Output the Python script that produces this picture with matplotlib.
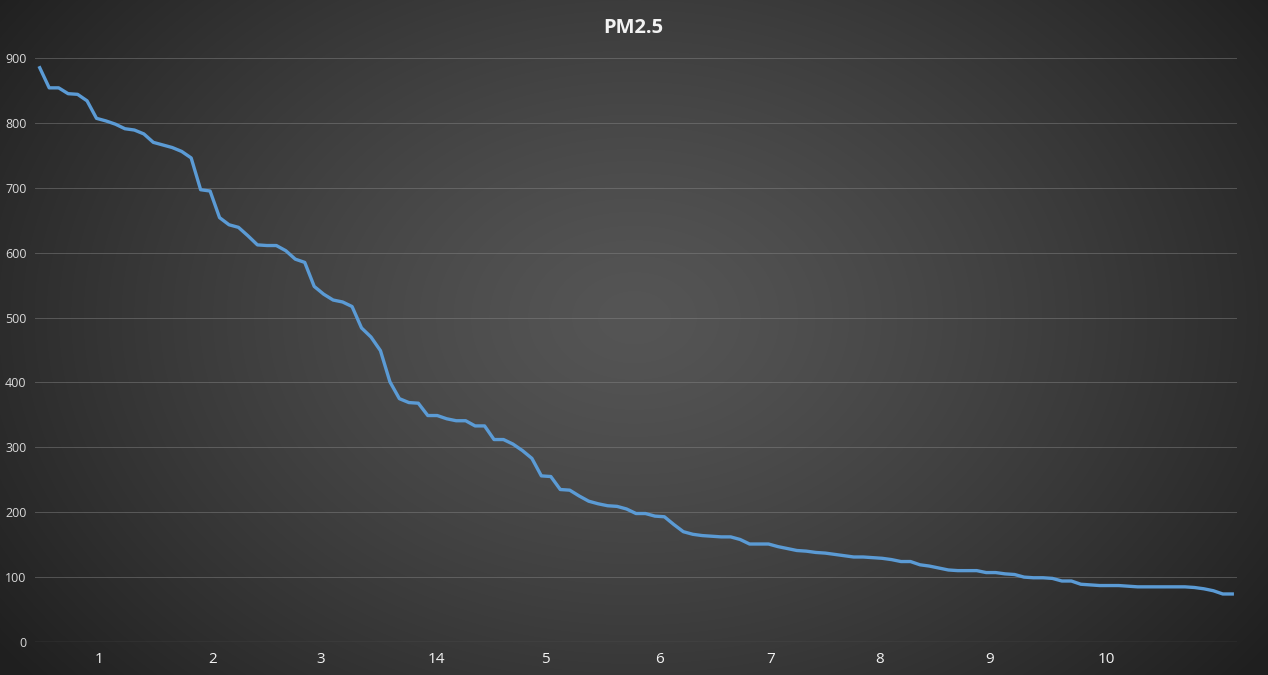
import numpy as np
import matplotlib
matplotlib.use("Agg")
import matplotlib.pyplot as plt

# ---- data ----
pm25 = [885, 854, 854, 845, 844, 834, 807, 803, 798, 791,
        789, 783, 770, 766, 762, 756, 746, 697, 695, 654,
        643, 639, 626, 612, 611, 611, 603, 590, 585, 548,
        536, 527, 524, 517, 484, 470, 449, 401, 375, 369,
        368, 349, 349, 344, 341, 341, 333, 333, 312, 312,
        305, 295, 283, 256, 255, 235, 234, 225, 217, 213,
        210, 209, 205, 198, 198, 194, 193, 181, 170, 166,
        164, 163, 162, 162, 158, 151, 151, 151, 147, 144,
        141, 140, 138, 137, 135, 133, 131, 131, 130, 129,
        127, 124, 124, 119, 117, 114, 111, 110, 110, 110,
        107, 107, 105, 104, 100, 99, 99, 98, 94, 94,
        89, 88, 87, 87, 87, 86, 85, 85, 85, 85,
        85, 85, 84, 82, 79, 74, 74]
x_labels = ["1", "2", "3", "14", "5", "6", "7", "8", "9", "10"]
x_label_pos = [6.3, 18.3, 29.7, 41.9, 53.4, 65.5, 77.2, 88.7, 100.4, 112.7]
y_ticks = [0, 100, 200, 300, 400, 500, 600, 700, 800, 900]
title = "PM2.5"

W, H = 1268, 675
fig = plt.figure(figsize=(W / 100, H / 100), dpi=100)

# radial gradient background
bg = fig.add_axes([0, 0, 1, 1], zorder=-10)
yy, xx = np.mgrid[0:H, 0:W]
cx, cy = W * 0.50, H * 0.47
r = np.sqrt(((xx - cx) / (W * 0.62)) ** 2 + ((yy - cy) / (H * 0.85)) ** 2)
r = np.clip(r, 0, 1)
light, dark = 0x55 / 255, 0x1f / 255
val = light - (light - dark) * r ** 1.3
bg.imshow(np.dstack([val, val, val]), aspect="auto", extent=[0, 1, 0, 1],
          interpolation="bilinear")
bg.set_axis_off()

left, right = 35 / W, 1237 / W
bottom, top = 1 - 642 / H, 1 - 58 / H
ax = fig.add_axes([left, bottom, right - left, top - bottom])
ax.patch.set_alpha(0)

x = np.arange(len(pm25))
ax.plot(x, pm25, color="#5b9bd5", lw=2.4, solid_joinstyle="round", zorder=3)

ax.set_xlim(-0.5, len(pm25) - 0.5)
ax.set_ylim(0, 900)
ax.set_yticks(y_ticks)
ax.set_yticklabels([str(v) for v in y_ticks], color="#d9d9d9", fontsize=9,
                   family="Open Sans")
ax.set_xticks(x_label_pos)
ax.set_xticklabels(x_labels, color="#f2f2f2", fontsize=11, family="Open Sans")
ax.tick_params(axis="both", length=0)
ax.tick_params(axis="y", pad=6)
ax.tick_params(axis="x", pad=7)

ax.yaxis.grid(True, color="#8a8a8a", lw=0.7, alpha=0.45)
ax.xaxis.grid(False)
for s in ax.spines.values():
    s.set_visible(False)
ax.axhline(0, color="#8a8a8a", lw=0.9, alpha=0.6, zorder=1)

fig.text(633 / W, 1 - 28 / H, title, ha="center", va="center", color="#f2f2f2",
         fontsize=14.5, fontweight="bold", family="Open Sans")

fig.savefig("out.png", dpi=100)
